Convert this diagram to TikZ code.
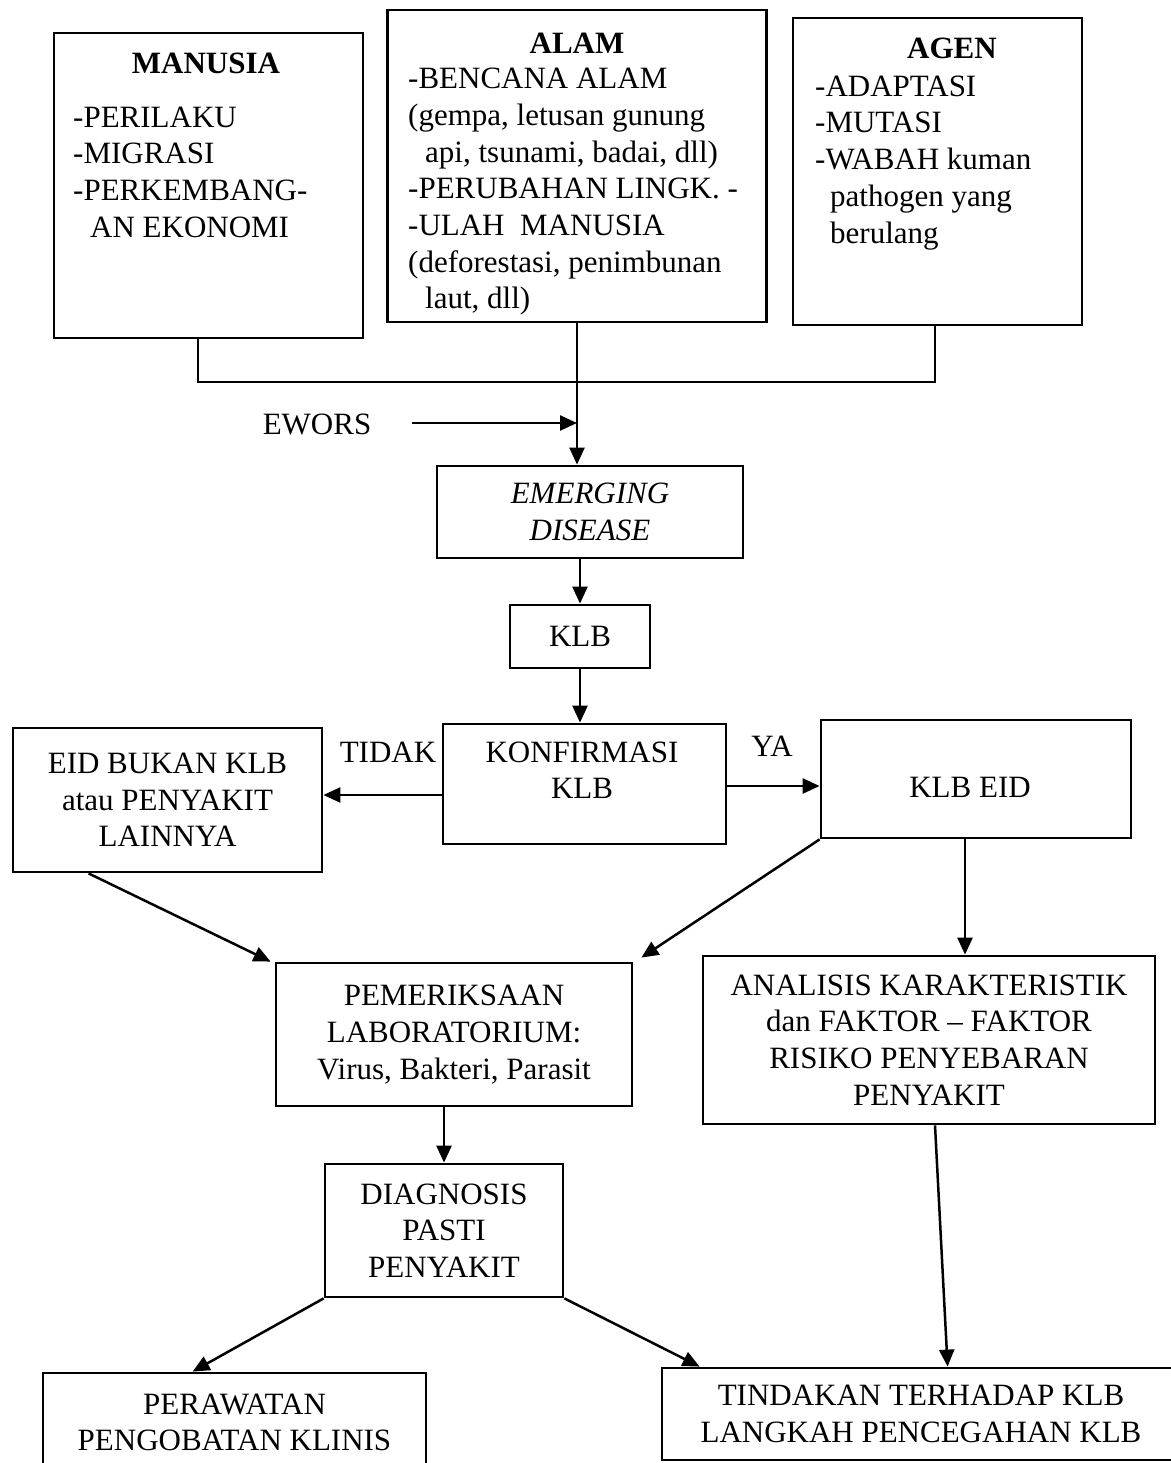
\documentclass[tikz,border=0pt]{standalone}
\usepackage{fontspec}
\setmainfont{Liberation Serif}
\usetikzlibrary{arrows.meta,calc}
\begin{document}
\begin{tikzpicture}[x=1pt,y=-1pt,
  every node/.style={font=\fontsize{31pt}{36.7pt}\selectfont, inner sep=0pt},
  box/.style={draw, line width=2.8pt, inner sep=0pt, align=center},
  conn/.style={line width=2.5pt},
  arr/.style={line width=2.5pt, -{Triangle[length=17pt,width=15pt]}}
]
\useasboundingbox (0,0) rectangle (1170,1463);

% ---------- top boxes ----------
\node[box, minimum width=309pt, minimum height=305pt] (manusia) at (208.5,185.5) {};
\node[anchor=base] (manusiaH) at (206,74) {\textbf{MANUSIA}};
\node[anchor=north west, align=left] (manusiaT) at (73,106.5)
  {-PERILAKU\\-MIGRASI\\-PERKEMBANG-\\\hspace*{17pt}AN EKONOMI};

\node[box, minimum width=379pt, minimum height=312pt] (alam) at (577,166) {};
\node[anchor=base] (alamH) at (577,54) {\textbf{ALAM}};
\node[anchor=north west, align=left] (alamT) at (408,68)
  {-BENCANA ALAM\\(gempa, letusan gunung\\\hspace*{17pt}api, tsunami, badai, dll)\\-PERUBAHAN LINGK. -\\-ULAH~~MANUSIA\\(deforestasi, penimbunan\\\hspace*{17pt}laut, dll)};

\node[box, minimum width=289pt, minimum height=307pt] (agen) at (937.5,171.5) {};
\node[anchor=base] (agenH) at (952,59) {\textbf{AGEN}};
\node[anchor=north west, align=left] (agenT) at (815,75.5)
  {-ADAPTASI\\-MUTASI\\-WABAH kuman\\\hspace*{15pt}pathogen yang\\\hspace*{15pt}berulang};

% ---------- joining lines ----------
\coordinate (j1) at (198,382);
\coordinate (j2) at (935,382);
\draw[conn] (manusia.south -| j1) -- (j1) -- (j2) -- (agen.south -| j2);

\node[box, minimum width=306pt, minimum height=92pt] (emerg) at (590,512)
  {\textit{EMERGING}\\\textit{DISEASE}};
\draw[arr] (alam.south) -- (alam.south |- emerg.north);

\node[anchor=base] (ewors) at (317,434) {EWORS};
\coordinate (ewA) at (412,423);
\draw[arr] (ewA) -- (ewA -| alam.south);

% ---------- middle ----------
\node[box, minimum width=140pt, minimum height=63pt] (klb) at (580,636.5) {KLB};
\draw[arr] (klb.north |- emerg.south) -- (klb.north);

\node[box, minimum width=283pt, minimum height=120pt] (konf) at (584.5,784) {};
\node[anchor=north, align=center] (konfT) at (582,741.5) {KONFIRMASI\\KLB};
\draw[arr] (klb.south) -- (klb.south |- konf.north);

\node[box, minimum width=309pt, minimum height=144pt] (eid) at (167.5,800)
  {EID BUKAN KLB\\atau PENYAKIT\\LAINNYA};
\node[box, minimum width=310pt, minimum height=118pt] (klbeid) at (976,779) {};
\node[anchor=base] (klbeidT) at (970,797) {KLB EID};

\draw[arr] ([yshift=-11pt]konf.west) -- ([yshift=-11pt]konf.west -| eid.east);
\draw[arr] ([yshift=-2pt]konf.east) -- ([yshift=-2pt]konf.east -| klbeid.west);
\node[anchor=base] (tidak) at (388,762) {TIDAK};
\node[anchor=base] (ya) at (772,756) {YA};

% ---------- lower ----------
\node[box, minimum width=356pt, minimum height=143pt] (pem) at (454,1034.5)
  {PEMERIKSAAN\\LABORATORIUM:\\Virus, Bakteri, Parasit};
\node[box, minimum width=452pt, minimum height=168pt] (ana) at (929,1040)
  {ANALISIS KARAKTERISTIK\\dan FAKTOR -- FAKTOR\\RISIKO PENYEBARAN\\PENYAKIT};

\draw[arr] ([xshift=77pt]eid.south west) -- ([xshift=-4pt]pem.north west);
\draw[arr] (klbeid.south west) -- ([xshift=8pt,yshift=4pt]pem.north east);
\draw[arr] ([xshift=-11pt]klbeid.south) -- ([xshift=-11pt]klbeid.south |- ana.north);

\node[box, minimum width=238pt, minimum height=133pt] (diag) at (444,1230.5)
  {DIAGNOSIS\\PASTI\\PENYAKIT};
\draw[arr] (diag.north |- pem.south) -- (diag.north);

\node[box, minimum width=383pt, minimum height=127pt] (peraw) at (234.5,1436.5) {};
\node[anchor=north, align=center] (perawT) at (234.5,1393.5)
  {PERAWATAN\\PENGOBATAN KLINIS};
\node[box, minimum width=518pt, minimum height=92pt] (tind) at (921,1414)
  {TINDAKAN TERHADAP KLB\\LANGKAH PENCEGAHAN KLB};

\draw[arr] (diag.south west) -- ([xshift=151pt]peraw.north west);
\draw[arr] (diag.south east) -- ([xshift=39pt]tind.north west);
\draw[arr] ([xshift=6pt]ana.south) -- ([xshift=287pt]tind.north west);
\end{tikzpicture}
\end{document}
